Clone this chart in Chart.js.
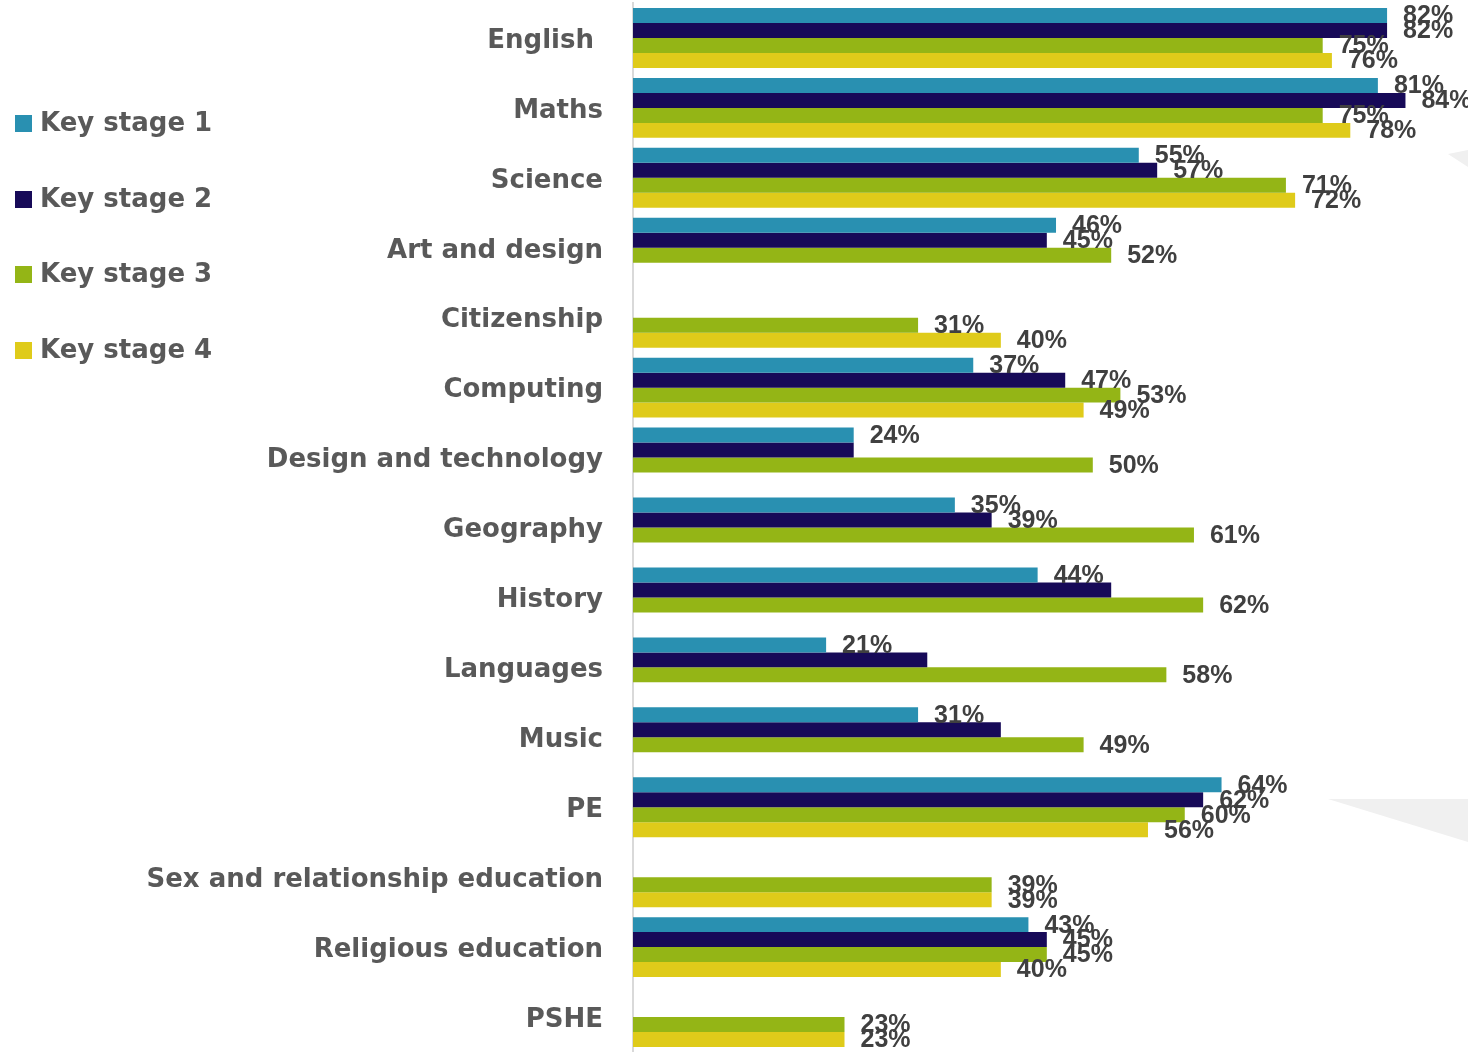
<!DOCTYPE html>
<html>
<head>
<meta charset="utf-8">
<script src="https://cdn.jsdelivr.net/npm/chart.js@4/dist/chart.umd.min.js"></script>
<style>
  body { margin: 0; background: #fff; }
  #wrap { position: relative; width: 1468px; height: 1052px; overflow: hidden; }
  #legend { position: absolute; left: 15px; top: 0; font-family: "DejaVu Sans", sans-serif; font-weight: bold; font-size: 26px; color: #595959; }
  .item { position: absolute; left: 0; white-space: nowrap; height: 30px; line-height: 30px; }
  .item span.box { display: inline-block; width: 17px; height: 17px; margin-right: 8px; vertical-align: -1px; }
</style>
</head>
<body>
<div id="wrap">
  <canvas id="chart"></canvas>
  <div id="legend"></div>
</div>
<script>
// Data
var subjects = [
  "English ",
  "Maths",
  "Science",
  "Art and design",
  "Citizenship",
  "Computing",
  "Design and technology",
  "Geography",
  "History",
  "Languages",
  "Music",
  "PE",
  "Sex and relationship education",
  "Religious education",
  "PSHE",
];
var seriesNames = ["Key stage 1", "Key stage 2", "Key stage 3", "Key stage 4"];
var ks1 = [82, 81, 55, 46, null, 37, 24, 35, 44, 21, 31, 64, null, 43, null];
var ks2 = [82, 84, 57, 45, null, 47, 24, 39, 52, 32, 40, 62, null, 45, null];
var ks3 = [75, 75, 71, 52, 31, 53, 50, 61, 62, 58, 49, 60, 39, 45, 23];
var ks4 = [76, 78, 72, null, 40, 49, null, null, null, null, null, 56, 39, 40, 23];
// key stage 2 bars that carry no value label in the original
var ks2NoLabel = ["Design and technology", "History", "Languages", "Music"];
var colors = ["#2990b1", "#170a58", "#94b516", "#dfcb1a"];

var allSeries = [ks1, ks2, ks3, ks4];
var datasets = allSeries.map(function (values, i) {
  return {
    label: seriesNames[i],
    data: values,
    backgroundColor: colors[i],
    borderWidth: 0,
  };
});

// light grey slide shapes behind the chart
var backdrop = {
  id: "backdrop",
  beforeDraw: function (chart) {
    var c = chart.ctx;
    c.save();
    c.fillStyle = "#f0f0f0";
    c.beginPath();
    c.moveTo(1448, 154); c.lineTo(1468, 150); c.lineTo(1468, 167); c.closePath();
    c.fill();
    c.beginPath();
    c.moveTo(1328, 799); c.lineTo(1468, 799); c.lineTo(1468, 842); c.closePath();
    c.fill();
    c.restore();
  },
};

// percentage labels to the right of every bar
var valueLabels = {
  id: "valueLabels",
  afterDatasetsDraw: function (chart) {
    var c = chart.ctx;
    c.save();
    c.font = "bold 25px 'Liberation Sans', sans-serif";
    c.fillStyle = "#404040";
    c.textBaseline = "middle";
    chart.data.datasets.forEach(function (ds, i) {
      var meta = chart.getDatasetMeta(i);
      meta.data.forEach(function (bar, j) {
        var v = ds.data[j];
        if (v === null) return;
        if (i === 1 && ks2NoLabel.indexOf(subjects[j]) >= 0) return;
        c.fillText(v + "%", bar.x + 16, bar.y + 1);
      });
    });
    c.restore();
  },
};

var ctx = document.getElementById("chart").getContext("2d");
var chart = new Chart(ctx, {
  type: "bar",
  data: {
    labels: subjects,
    datasets: datasets,
  },
  plugins: [backdrop, valueLabels],
  options: {
    indexAxis: "y",
    responsive: true,
    maintainAspectRatio: false,
    animation: false,
    layout: { padding: { top: 3, bottom: 0, left: 0, right: 0 } },
    datasets: { bar: { categoryPercentage: 0.857, barPercentage: 1 } },
    plugins: { legend: { display: false }, tooltip: { enabled: false } },
    scales: {
      x: { display: false, min: 0, max: 90.8 },
      y: {
        grid: { display: false, drawTicks: false },
        border: { display: true, color: "#d9d9d9", width: 2 },
        ticks: {
          padding: 30,
          labelOffset: 3,
          color: "#595959",
          font: { family: "DejaVu Sans", size: 26, weight: "bold" },
        },
        afterFit: function (scale) {
          scale.width = 633;
          scale.paddingTop = 0;
          scale.paddingBottom = 0;
        },
      },
    },
  },
});

// Legend
var legendEl = document.getElementById("legend");
var legendTops = [122, 198, 273, 349];
seriesNames.forEach(function (name, i) {
  var d = document.createElement("div");
  d.className = "item";
  d.style.top = (legendTops[i] - 15) + "px";
  d.innerHTML = '<span class="box" style="background:' + colors[i] + '"></span>' + name;
  legendEl.appendChild(d);
});
</script>
</body>
</html>
